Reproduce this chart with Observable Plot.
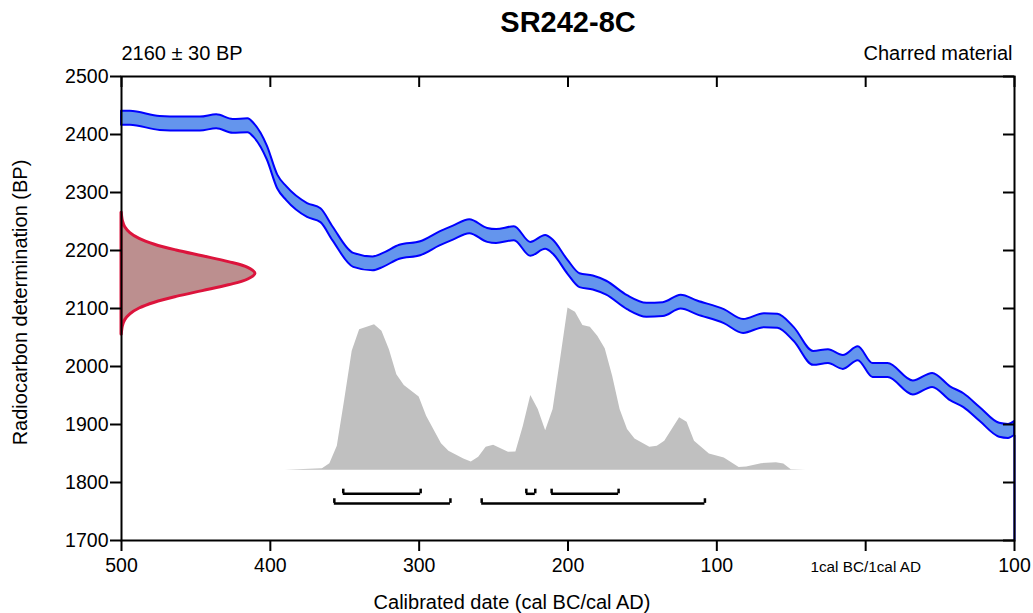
<!DOCTYPE html>
<html>
<head>
<meta charset="utf-8">
<script src="https://cdn.jsdelivr.net/npm/d3@7"></script>
<script src="https://cdn.jsdelivr.net/npm/@observablehq/plot@0.6"></script>
<style>
  html, body { margin: 0; padding: 0; background: #fff; }
</style>
</head>
<body>
<div id="chart"></div>
<script>
// ---- Data ----
// Calibration curve (year: negative = cal BC, positive = cal AD)
const curveYears = [-500, -494, -474, -460, -447, -436, -425, -415, -411, -402, -395, -389, -375, -366, -358, -344, -331, -324, -313, -299, -286, -277, -266, -254, -248, -236, -225, -215, -210, -200, -192, -183, -174, -160, -147, -136, -124, -113, -95, -82, -68, -59, -48, -35, -25, -15, -5, 5, 15, 32, 45, 57, 66, 77, 90, 96, 100];
const curveBP = [2428, 2428, 2419, 2418, 2418, 2422, 2414, 2415, 2407, 2368, 2318, 2298, 2269, 2260, 2229, 2183, 2177, 2183, 2197, 2203, 2220, 2230, 2241, 2226, 2224, 2229, 2202, 2214, 2206, 2171, 2148, 2144, 2135, 2110, 2097, 2098, 2111, 2101, 2086, 2069, 2079, 2078, 2055, 2014, 2017, 2007, 2022, 1993, 1993, 1963, 1976, 1953, 1941, 1917, 1890, 1888, 1893];
const curveErr = 12;

// Radiocarbon determination 2160 ± 30 BP (relative probability by BP)
const dateBP = [2265, 2260, 2250, 2240, 2230, 2220, 2210, 2200, 2190, 2180, 2170, 2160, 2150, 2140, 2130, 2120, 2110, 2100, 2090, 2080, 2070, 2060, 2055];
const dateProb = [0.002, 0.004, 0.011, 0.028, 0.066, 0.135, 0.249, 0.411, 0.607, 0.801, 0.946, 1.000, 0.946, 0.801, 0.607, 0.411, 0.249, 0.135, 0.066, 0.028, 0.011, 0.004, 0.002];

// Calibrated date probability (relative)
const calYears = [-390, -365, -360, -355, -350, -345, -340, -330, -325, -320, -315, -310, -300, -295, -285, -280, -270, -265, -260, -255, -250, -240, -235, -230, -225, -220, -215, -210, -205, -200, -195, -190, -185, -180, -175, -170, -165, -160, -155, -145, -140, -135, -125, -120, -115, -105, -95, -90, -85, -80, -70, -60, -55, -50, -40];
const calProb = [0, 0.010, 0.041, 0.148, 0.435, 0.733, 0.866, 0.897, 0.856, 0.743, 0.589, 0.522, 0.451, 0.333, 0.164, 0.117, 0.070, 0.051, 0.080, 0.142, 0.154, 0.111, 0.113, 0.271, 0.460, 0.374, 0.244, 0.374, 0.682, 1.000, 0.973, 0.891, 0.881, 0.825, 0.748, 0.579, 0.374, 0.251, 0.193, 0.142, 0.148, 0.179, 0.323, 0.296, 0.179, 0.101, 0.076, 0.046, 0.018, 0.021, 0.041, 0.046, 0.039, 0.004, 0];

// Highest probability ranges
const ranges68 = [[-351, -299], [-228, -222], [-211, -166]];
const ranges95 = [[-357, -279], [-258, -108]];

// Tick labels
const xTicks = [-500, -400, -300, -200, -100, 0, 100];
const xTickLabels = ["500", "400", "300", "200", "100", "1cal BC/1cal AD", "100"];
const yTicks = [1700, 1800, 1900, 2000, 2100, 2200, 2300, 2400, 2500];

const titleText = "SR242-8C";
const leftNote = "2160 ± 30 BP";
const rightNote = "Charred material";
const xTitle = "Calibrated date (cal BC/cal AD)";
const yTitle = "Radiocarbon determination (BP)";

// ---- Build tables ----
const curve = curveYears.map((x, i) => ({x, lo: curveBP[i] - curveErr, hi: curveBP[i] + curveErr}));
const dateDist = dateBP.map((y, i) => ({y, p: dateProb[i]}));
const calDist = calYears.map((x, i) => ({x, p: calProb[i]}));
const calBase = 1821, calScale = 280;   // layout of the calibrated distribution
const dateBase = -500, dateScale = 90;  // layout of the measured distribution
const row68 = 1780.5, row95 = 1764, capH = 8;
const bars = [
  ...ranges68.map(([a, b]) => ({x1: a, x2: b, y: row68})),
  ...ranges95.map(([a, b]) => ({x1: a, x2: b, y: row95}))
];
const caps = bars.flatMap(d => [{x: d.x1, y: d.y}, {x: d.x2, y: d.y}]);
const labelOf = new Map(xTicks.map((t, i) => [t, xTickLabels[i]]));
const last = curve[curve.length - 1];

const W = 1033, H = 613, mL = 121, mR = 19, mT = 76, mB = 73;
const plotW = W - mL - mR, plotH = H - mT - mB;
const FS = 19.5;

const chart = Plot.plot({
  width: W,
  height: H,
  marginLeft: mL,
  marginRight: mR,
  marginTop: mT,
  marginBottom: mB,
  style: {fontFamily: "'Liberation Sans', Arial, Helvetica, sans-serif", fontSize: FS + "px", color: "#000", background: "#fff"},
  x: {domain: [-500, 100]},
  y: {domain: [1700, 2500]},
  marks: [
    // calibrated distribution
    Plot.areaY(calDist, {x: "x", y1: calBase, y2: d => calBase + d.p * calScale, fill: "#c0c0c0"}),
    // calibration curve band
    Plot.areaY(curve, {x: "x", y1: "lo", y2: "hi", fill: "#6495ed", stroke: "#0000ff", strokeWidth: 2, curve: "monotone-x"}),
    Plot.ruleX([last], {x: "x", y1: 1700, y2: "lo", stroke: "#0000ff", strokeWidth: 2}),
    // measured radiocarbon date
    Plot.areaX(dateDist, {y: "y", x1: dateBase, x2: d => dateBase + d.p * dateScale, fill: "#bc8f8f", stroke: "#dc143c", strokeWidth: 3, curve: "catmull-rom"}),
    // ranges
    Plot.ruleY(bars, {y: "y", x1: "x1", x2: "x2", stroke: "#000", strokeWidth: 2.5}),
    Plot.ruleX(caps, {x: "x", y1: "y", y2: d => d.y + capH, stroke: "#000", strokeWidth: 2.5}),
    // frame and axes
    Plot.frame({stroke: "#000", strokeWidth: 2}),
    Plot.axisY({ticks: yTicks, tickSize: 11, tickPadding: 2, strokeWidth: 2, tickFormat: d => String(d), fontSize: FS, label: null}),
    Plot.axisX({ticks: xTicks.filter(t => t !== 0), tickSize: 11, tickPadding: 7, strokeWidth: 2, tickFormat: d => labelOf.get(d), fontSize: FS, label: null}),
    Plot.axisX({ticks: [0], tickSize: 11, tickPadding: 10, strokeWidth: 2, tickFormat: d => labelOf.get(d), fontSize: 15.3, label: null}),
    Plot.ruleX(xTicks, {x: d => d, insetBottom: plotH - 11, stroke: "#000", strokeWidth: 2}),
    Plot.ruleY(yTicks, {y: d => d, insetLeft: plotW - 11, stroke: "#000", strokeWidth: 2}),
    // texts
    Plot.text([titleText], {text: d => d, frameAnchor: "top", textAnchor: "middle", lineAnchor: "middle", dy: -54, fontSize: 29, fontWeight: "bold", fill: "#000"}),
    Plot.text([leftNote], {text: d => d, frameAnchor: "top-left", textAnchor: "start", lineAnchor: "middle", dy: -23, fontSize: 20, fill: "#000"}),
    Plot.text([rightNote], {text: d => d, frameAnchor: "top-right", textAnchor: "end", lineAnchor: "middle", dx: -2, dy: -23, fontSize: 20, fill: "#000"}),
    Plot.text([xTitle], {text: d => d, frameAnchor: "bottom", textAnchor: "middle", lineAnchor: "middle", dx: -56, dy: 62, fontSize: 20, fill: "#000"}),
    Plot.text([yTitle], {text: d => d, frameAnchor: "left", textAnchor: "middle", lineAnchor: "middle", rotate: -90, dx: -101, dy: -6, fontSize: 20, fill: "#000"})
  ]
});
document.getElementById("chart").appendChild(chart);
</script>
</body>
</html>
